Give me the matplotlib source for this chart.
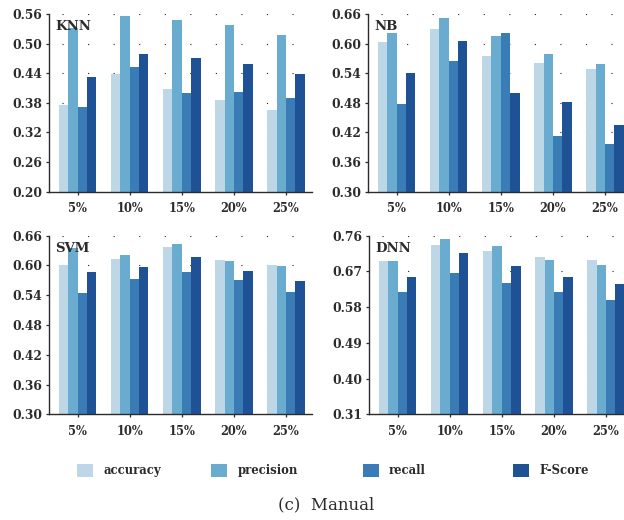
import numpy as np
import matplotlib
matplotlib.use("Agg")
import matplotlib.pyplot as plt
from matplotlib.patches import Rectangle

ratios = ["5%", "10%", "15%", "20%", "25%"]
metrics = ["accuracy", "precision", "recall", "F-Score"]
colors = ["#bdd7e6", "#6aabd0", "#3a7db6", "#1f5294"]

# per-model scores, one list per metric (accuracy, precision, recall, F-Score)
knn = [[0.376, 0.438, 0.408, 0.386, 0.365],
       [0.531, 0.556, 0.548, 0.538, 0.517],
       [0.372, 0.453, 0.400, 0.402, 0.390],
       [0.432, 0.479, 0.471, 0.459, 0.438]]
nb = [[0.603, 0.630, 0.575, 0.561, 0.549],
      [0.622, 0.652, 0.616, 0.579, 0.559],
      [0.478, 0.565, 0.622, 0.413, 0.397],
      [0.540, 0.605, 0.500, 0.482, 0.435]]
svm = [[0.601, 0.613, 0.637, 0.611, 0.601],
       [0.635, 0.621, 0.643, 0.609, 0.599],
       [0.544, 0.573, 0.587, 0.571, 0.547],
       [0.587, 0.597, 0.617, 0.589, 0.569]]
dnn = [[0.696, 0.736, 0.721, 0.706, 0.699],
       [0.696, 0.752, 0.734, 0.698, 0.686],
       [0.618, 0.666, 0.641, 0.618, 0.598],
       [0.656, 0.716, 0.684, 0.656, 0.638]]

knn_ticks = [0.20, 0.26, 0.32, 0.38, 0.44, 0.50, 0.56]
nb_ticks = [0.30, 0.36, 0.42, 0.48, 0.54, 0.60, 0.66]
svm_ticks = [0.30, 0.36, 0.42, 0.48, 0.54, 0.60, 0.66]
dnn_ticks = [0.31, 0.40, 0.49, 0.58, 0.67, 0.76]

W, H = 624, 520
fig = plt.figure(figsize=(W / 100, H / 100), dpi=100)
fs = "DejaVu Serif"
ink = "#2b2b2b"


def px_axes(left, top, width, bottom):
    return fig.add_axes([left / W, 1 - bottom / H, width / W, (bottom - top) / H])


panels = [("KNN", knn, knn_ticks, (49, 14, 263, 191.7)),
          ("NB", nb, nb_ticks, (368, 14, 263, 191.7)),
          ("SVM", svm, svm_ticks, (49, 235.7, 263, 414.3)),
          ("DNN", dnn, dnn_ticks, (369, 235.7, 263, 414.3))]

x = np.arange(len(ratios))
bw = 0.18
for name, vals, ticks, box in panels:
    ax = px_axes(*box)
    for k, (vs, c) in enumerate(zip(vals, colors)):
        ax.bar(x + (k - 1.5) * bw, vs, bw, color=c, linewidth=0, zorder=2)
    ax.set_xlim(-0.55, 4.5)
    ax.set_ylim(ticks[0], ticks[-1])
    ax.set_yticks(ticks)
    ax.set_yticklabels([f"{t:.2f}" for t in ticks], fontfamily=fs,
                       fontweight="bold", fontsize=8.8, color=ink)
    ax.set_xticks(x)
    ax.set_xticklabels(ratios, fontfamily=fs, fontweight="bold",
                       fontsize=8.3, color=ink)
    ax.tick_params(axis="y", length=2.5, width=0.9, pad=2.5, color=ink)
    ax.tick_params(axis="x", length=2.5, width=0.9, pad=5, color=ink)
    for s in ("top", "right"):
        ax.spines[s].set_visible(False)
    for s in ("left", "bottom"):
        ax.spines[s].set_color(ink)
        ax.spines[s].set_linewidth(1.0)
    ax.set_axisbelow(True)
    ax.yaxis.grid(True, color="#222222", linewidth=0.8,
                  linestyle=(11.3, (1, 22)))
    ax.text(0.025, 0.965, name, transform=ax.transAxes, ha="left", va="top",
            fontfamily=fs, fontweight="bold", fontsize=9.5, color=ink)
    ax.patch.set_alpha(0)

# legend row
patch_x = [77, 211, 363, 513]
text_x = [103, 238, 389, 539]
for px, tx, lab, c in zip(patch_x, text_x, metrics, colors):
    fig.add_artist(Rectangle((px / W, 1 - 477 / H), 16 / W, 13 / H,
                             transform=fig.transFigure, color=c, lw=0))
    fig.text(tx / W, 1 - 470.5 / H, lab, ha="left", va="center",
             fontfamily=fs, fontweight="bold", fontsize=8.4, color=ink)

fig.text(326.5 / W, 1 - 505 / H, "(c)  Manual", ha="center", va="center",
         fontfamily=fs, fontsize=12, color=ink)

fig.savefig("out.png", dpi=100)
